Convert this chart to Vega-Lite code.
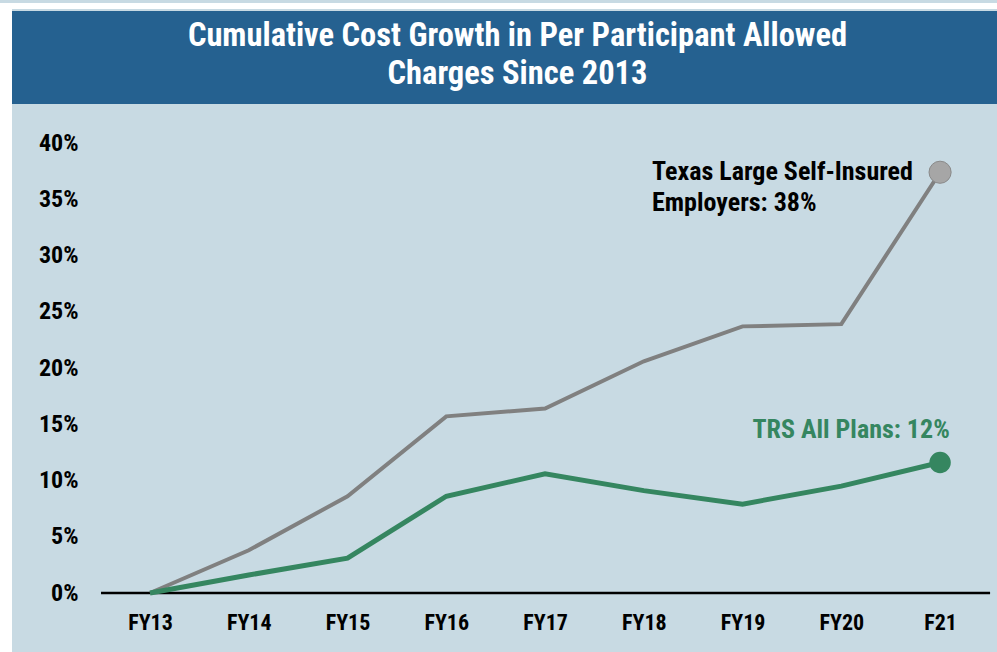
{
  "$schema": "https://vega.github.io/schema/vega-lite/v6.json",
  "background": "#c8dae3",
  "padding": 0,
  "spacing": 0,
  "config": {
    "view": {"stroke": null},
    "font": "Roboto Condensed, Roboto, sans-serif"
  },
  "datasets": {
    "growth": [
      {"period": "FY13", "series": "Texas Large Self-Insured Employers", "value": 0.0},
      {"period": "FY14", "series": "Texas Large Self-Insured Employers", "value": 0.038},
      {"period": "FY15", "series": "Texas Large Self-Insured Employers", "value": 0.086},
      {"period": "FY16", "series": "Texas Large Self-Insured Employers", "value": 0.157},
      {"period": "FY17", "series": "Texas Large Self-Insured Employers", "value": 0.164},
      {"period": "FY18", "series": "Texas Large Self-Insured Employers", "value": 0.206},
      {"period": "FY19", "series": "Texas Large Self-Insured Employers", "value": 0.237},
      {"period": "FY20", "series": "Texas Large Self-Insured Employers", "value": 0.239},
      {"period": "F21", "series": "Texas Large Self-Insured Employers", "value": 0.374},
      {"period": "FY13", "series": "TRS All Plans", "value": 0.0},
      {"period": "FY14", "series": "TRS All Plans", "value": 0.016},
      {"period": "FY15", "series": "TRS All Plans", "value": 0.031},
      {"period": "FY16", "series": "TRS All Plans", "value": 0.086},
      {"period": "FY17", "series": "TRS All Plans", "value": 0.106},
      {"period": "FY18", "series": "TRS All Plans", "value": 0.091},
      {"period": "FY19", "series": "TRS All Plans", "value": 0.079},
      {"period": "FY20", "series": "TRS All Plans", "value": 0.095},
      {"period": "F21", "series": "TRS All Plans", "value": 0.116}
    ],
    "labels": [
      {"period": "F21", "series": "Texas Large Self-Insured Employers", "value": 0.374, "label": "Texas Large Self-Insured\nEmployers: 38%"},
      {"period": "F21", "series": "TRS All Plans", "value": 0.116, "label": "TRS All Plans: 12%"}
    ],
    "baseline": [
      {"period": "FY13", "periodEnd": "F21", "value": 0}
    ],
    "title": [
      {"t": "Cumulative Cost Growth in Per Participant Allowed\nCharges Since 2013"}
    ],
    "blank": [
      {"t": ""}
    ]
  },
  "hconcat": [
    {
      "width": 12,
      "height": 652,
      "view": {"fill": "white", "stroke": null},
      "data": {"name": "blank"},
      "mark": {"type": "text"},
      "encoding": {"text": {"field": "t", "type": "nominal"}}
    },
    {
      "spacing": 27,
      "bounds": "full",
      "vconcat": [
        {
          "spacing": 0,
          "vconcat": [
            {
              "width": 985,
              "height": 6,
              "view": {"fill": "white", "stroke": null},
              "data": {"name": "blank"},
              "mark": {"type": "text"},
              "encoding": {"text": {"field": "t", "type": "nominal"}}
            },
            {
              "width": 985,
              "height": 93,
              "view": {"fill": "#256190", "stroke": null},
              "data": {"name": "title"},
              "mark": {"type": "text", "color": "white", "fontSize": 32.5, "fontWeight": "bold", "lineBreak": "\n", "lineHeight": 38, "dy": -22, "dx": 13},
              "encoding": {"text": {"field": "t", "type": "nominal"}}
            }
          ]
        },
        {
          "width": 985,
          "height": 450,
          "encoding": {
            "x": {
              "field": "period",
              "type": "ordinal",
              "scale": {
                "type": "point",
                "domain": ["FY13", "FY14", "FY15", "FY16", "FY17", "FY18", "FY19", "FY20", "F21"],
                "padding": 0.987,
                "align": 0.708
              },
              "axis": {
                "title": null,
                "labelAngle": 0,
                "labelFontSize": 22,
                "labelFontWeight": "bold",
                "labelColor": "black",
                "ticks": false,
                "domain": false,
                "labelPadding": 19,
                "minExtent": 59,
                "maxExtent": 59
              }
            },
            "y": {
              "field": "value",
              "type": "quantitative",
              "scale": {"domain": [0, 0.4]},
              "axis": {
                "title": null,
                "format": ".0%",
                "values": [0, 0.05, 0.1, 0.15, 0.2, 0.25, 0.3, 0.35, 0.4],
                "grid": false,
                "domain": false,
                "ticks": false,
                "labelFontSize": 24,
                "labelFontWeight": "bold",
                "labelColor": "black",
                "labelPadding": 23,
                "offset": -89,
                "minExtent": 0,
                "maxExtent": 0
              }
            }
          },
          "layer": [
            {
              "data": {"name": "baseline"},
              "mark": {"type": "rule", "color": "black", "strokeWidth": 2.5, "xOffset": -49, "x2Offset": 50},
              "encoding": {
                "x2": {"field": "periodEnd"}
              }
            },
            {
              "data": {"name": "growth"},
              "transform": [{"filter": "datum.series === 'Texas Large Self-Insured Employers'"}],
              "mark": {"type": "line", "color": "#808080", "strokeWidth": 4}
            },
            {
              "data": {"name": "growth"},
              "transform": [{"filter": "datum.series === 'TRS All Plans'"}],
              "mark": {"type": "line", "color": "#358660", "strokeWidth": 5}
            },
            {
              "data": {"name": "labels"},
              "transform": [{"filter": "datum.series === 'Texas Large Self-Insured Employers'"}],
              "mark": {"type": "circle", "size": 490, "color": "#a6a6a6", "stroke": "#8a8a8a", "strokeWidth": 1, "opacity": 1}
            },
            {
              "data": {"name": "labels"},
              "transform": [{"filter": "datum.series === 'TRS All Plans'"}],
              "mark": {"type": "circle", "size": 460, "color": "#358660", "opacity": 1}
            },
            {
              "data": {"name": "labels"},
              "transform": [{"filter": "datum.series === 'Texas Large Self-Insured Employers'"}],
              "mark": {"type": "text", "align": "left", "baseline": "middle", "dx": -288, "dy": 0, "fontSize": 26, "fontWeight": "bold", "color": "black", "lineBreak": "\n", "lineHeight": 31},
              "encoding": {"text": {"field": "label", "type": "nominal"}}
            },
            {
              "data": {"name": "labels"},
              "transform": [{"filter": "datum.series === 'TRS All Plans'"}],
              "mark": {"type": "text", "align": "center", "baseline": "middle", "dx": -89, "dy": -33, "fontSize": 26, "fontWeight": "bold", "color": "#358660"},
              "encoding": {"text": {"field": "label", "type": "nominal"}}
            }
          ]
        }
      ]
    }
  ]
}
